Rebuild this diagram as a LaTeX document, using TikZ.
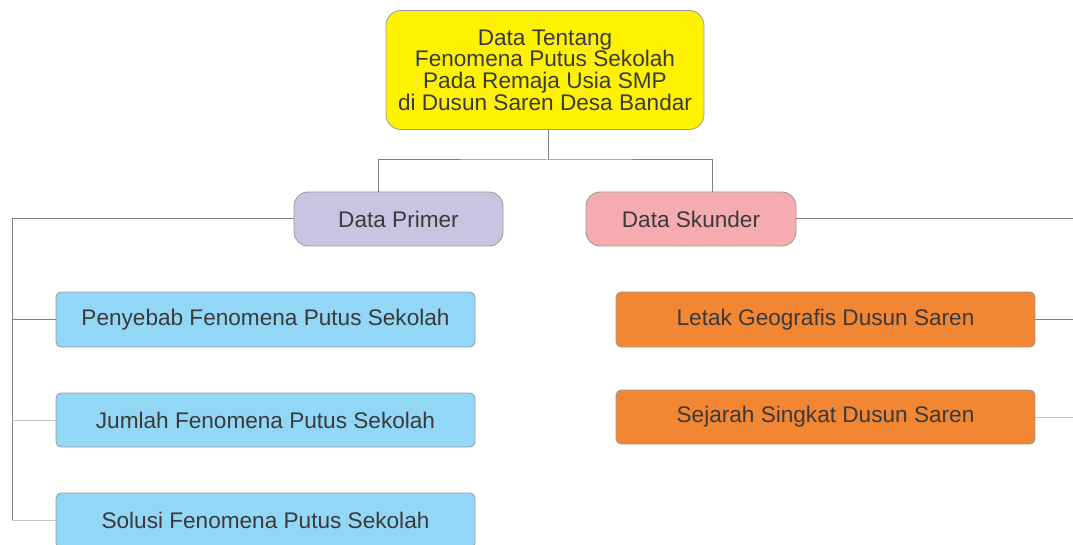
\documentclass[tikz,border=0pt]{standalone}
\usepackage{fontspec}
\setmainfont{Liberation Sans}
\definecolor{txt}{HTML}{3A3A3A}
\definecolor{edge}{HTML}{7F7F7F}
\definecolor{ylw}{HTML}{FFF200}
\definecolor{lav}{HTML}{C8C4E2}
\definecolor{pnk}{HTML}{F6ABB0}
\definecolor{sky}{HTML}{92D7F5}
\definecolor{org}{HTML}{F28633}
\begin{document}
\begin{tikzpicture}[x=1pt,y=-1pt,
  box/.style={draw=edge!80,line width=0.8pt,text=txt,font=\fontsize{22.6}{21.6}\selectfont,align=center,inner sep=0pt},
  big/.style={box,fill=ylw,rounded corners=15pt,minimum width=318pt,minimum height=119pt},
  mid/.style={box,rounded corners=14pt,minimum width=209pt,minimum height=54pt},
  leaf/.style={box,rounded corners=5pt,minimum width=419pt,minimum height=55pt},
  link/.style={draw=edge,line width=1pt},
  lite/.style={draw=edge!45,line width=1pt}]
\useasboundingbox (0,0) rectangle (1073,545);
\node[big] (top) at (545,70) {Data Tentang\\Fenomena Putus Sekolah\\Pada Remaja Usia SMP\\di Dusun Saren Desa Bandar};
\node[mid,fill=lav] (primer) at (398.5,219) {Data Primer};
\node[mid,fill=pnk,minimum width=210pt] (skunder) at (691,219) {Data Skunder};
\node[leaf,fill=sky] (b1) at (265.5,319.5) {Penyebab Fenomena Putus Sekolah};
\node[leaf,fill=sky,minimum height=54pt] (b2) at (265.5,420) {Jumlah Fenomena Putus Sekolah};
\node[leaf,fill=sky] (b3) at (265.5,520.5) {Solusi Fenomena Putus Sekolah};
\node[leaf,fill=org] (o1) at (825.5,319.5) {Letak Geografis Dusun Saren};
\node[leaf,fill=org,minimum height=54pt] (o2) at (825.5,417) {Sejarah Singkat Dusun Saren};
\coordinate (hub) at (548,160);
\coordinate (L) at (12,219);
\coordinate (Lbot) at (12,521);
\coordinate (R) at (1073,219);
\draw[link] (top.south -| hub) -- (hub);
\draw[link] (primer.north -| 378,0) |- (hub) -| (skunder.north -| 712,0);
\draw[link] (primer.west) -- (L) -- (Lbot);
\draw[link] (b1.west) -- (b1.west -| L);
\draw[lite] (b2.west) -- (b2.west -| L);
\draw[lite] (b3.west) -- (b3.west -| L);
\draw[link] (skunder.east) -- (R);
\draw[link] (o1.east) -- (o1.east -| R);
\draw[lite] (o2.east) -- (o2.east -| R);
\end{tikzpicture}
\end{document}
